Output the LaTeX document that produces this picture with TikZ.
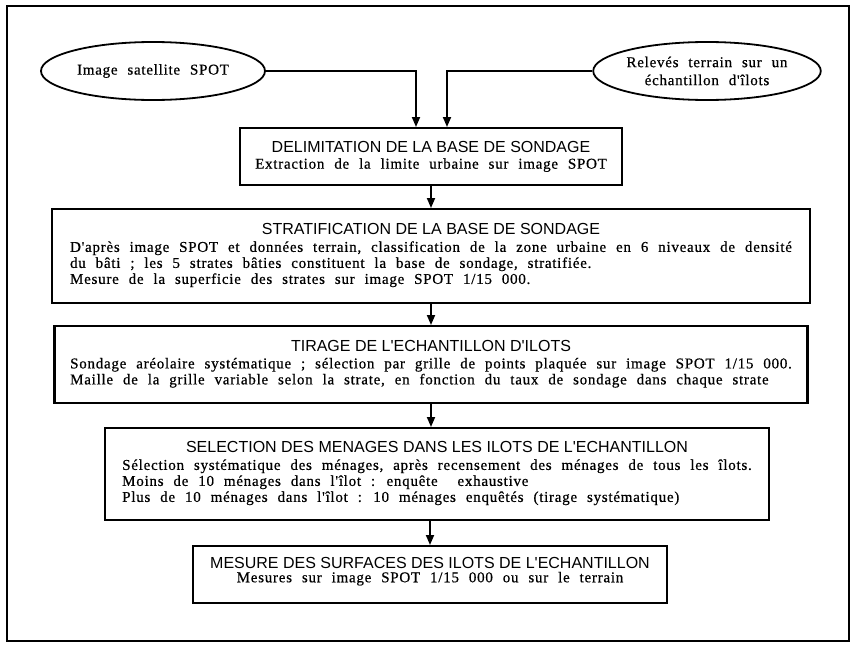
\documentclass[tikz,border=0pt]{standalone}
\usepackage{fontspec}
\setmainfont{Liberation Serif}
\newfontfamily\ttlfont{Liberation Sans}
\newfontfamily\txtfont[LetterSpace=5,WordSpace=2.2,FakeBold=0.6]{Liberation Serif}
\usetikzlibrary{arrows.meta,shapes.geometric,positioning}

\newcommand{\titre}[1]{{\ttlfont\fontsize{16}{19}\selectfont #1}}
\newcommand{\corps}{\txtfont\fontsize{15}{16}\selectfont}

\tikzset{
	etape/.style={draw, line width=2.4pt, inner sep=0pt, align=center, anchor=north},
	source/.style={ellipse, draw, line width=1.8pt, inner sep=0pt, align=center, font=\corps},
	fleche/.style={line width=1.8pt, -{Triangle[length=10pt,width=8pt]}}
}

\begin{document}
\begin{tikzpicture}[x=1pt,y=-1pt]
				\useasboundingbox (0,0) rectangle (852,645);
				\draw[line width=1.2pt] (7,6) rectangle (849,641);
				
				% sources
				\node[source, minimum width=224pt, minimum height=58pt] (spot) at (153,71) {Image satellite SPOT};
				\node[source, minimum width=219pt, minimum height=58pt] (releves) at (707,71) {Relevés terrain sur un\\[2pt] échantillon d'îlots};
				
				% etapes
				\node[etape, minimum width=382pt, minimum height=57pt] (delim) at (431,127)
				{\titre{DELIMITATION DE LA BASE DE SONDAGE}\\[4pt]
					{\corps Extraction de la limite urbaine sur image SPOT}};
				
				\node[etape, minimum width=758pt, minimum height=94pt] (strat) at (431,208)
				{\titre{STRATIFICATION DE LA BASE DE SONDAGE}\\[5pt]
					\corps\begin{tabular}[t]{@{}l@{}}
						D'après image SPOT et données terrain, classification de la zone urbaine en 6 niveaux de densité\\
						du bâti ; les 5 strates bâties constituent la base de sondage, stratifiée.\\
						Mesure de la superficie des strates sur image SPOT 1/15 000.
				\end{tabular}};
				
				\node[etape, minimum width=753pt, minimum height=77pt] (tirage) at (431,325)
				{\titre{TIRAGE DE L'ECHANTILLON D'ILOTS}\\[5pt]
					\corps\begin{tabular}[t]{@{}l@{}}
						Sondage aréolaire systématique ; sélection par grille de points plaquée sur image SPOT 1/15 000.\\
						Maille de la grille variable selon la strate, en fonction du taux de sondage dans chaque strate
				\end{tabular}};
				
				\node[etape, minimum width=664pt, minimum height=92pt] (menages) at (437,427)
				{\titre{SELECTION DES MENAGES DANS LES ILOTS DE L'ECHANTILLON}\\[5pt]
					\corps\begin{tabular}[t]{@{}l@{}}
						Sélection systématique des ménages, après recensement des ménages de tous les îlots.\\
						Moins de 10 ménages dans l'îlot : enquête \ exhaustive\\
						Plus de 10 ménages dans l'îlot : 10 ménages enquêtés (tirage systématique)
				\end{tabular}};
				
				\node[etape, minimum width=474pt, minimum height=57pt] (surf) at (430,545)
				{\titre{MESURE DES SURFACES DES ILOTS DE L'ECHANTILLON}\\[2pt]
					{\corps Mesures sur image SPOT 1/15 000 ou sur le terrain}\\[-2pt]\rule{0pt}{8pt}};
				
				% fleches
				\draw[fleche] (spot.east) -| ([xshift=-15pt]delim.north);
				\draw[fleche] (releves.west) -| ([xshift=16pt]delim.north);
				
				\foreach \a/\b in {delim/strat,strat/tirage,tirage/menages}{
					\draw[fleche] (\a.south) -- (\a.south |- \b.north);}
				\draw[fleche] (surf.north |- menages.south) -- (surf.north);
\end{tikzpicture}
\end{document}
